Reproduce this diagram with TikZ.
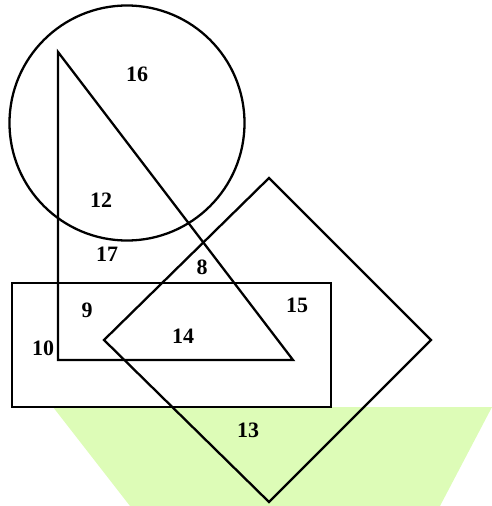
\documentclass[tikz,border=0pt]{standalone}
\usepackage{fontspec}
\setmainfont{Liberation Serif}
\usetikzlibrary{positioning, calc}
\definecolor{regiongreen}{RGB}{221,252,183}

\begin{document}
\begin{tikzpicture}[x=0.02cm, y=-0.02cm,
    outline/.style={draw, line width=1.3pt, line join=miter},
    num/.style={font=\fontsize{12.5}{14}\selectfont\bfseries, inner sep=0pt}
  ]
  \useasboundingbox (0,0) rectangle (492,506);
  % green band
  \fill[regiongreen] (53,407) -- (492,407) -- (440,506) -- (130,506) -- cycle;
  % the four figures
  \draw[outline] (127,123) circle[radius=117.5];
  \draw[outline] (58,52) -- (58,360) -- (293,360) -- cycle;
  \draw[outline] (12,283) rectangle (331,407);
  \draw[outline] (269,178) -- (431,340) -- (269,502) -- (104,340) -- cycle;
  % region numbers
  \node[num] (r16) at (137,74)  {16};
  \node[num] (r12) at (101,200) {12};
  \node[num] (r17) at (107,254) {17};
  \node[num] (r8)  at (202,267) {8};
  \node[num] (r9)  at (87,310)  {9};
  \node[num] (r15) at (297,305) {15};
  \node[num] (r14) at (183,336) {14};
  \node[num] (r10) at (43,348)  {10};
  \node[num] (r13) at (248,430) {13};
\end{tikzpicture}
\end{document}
